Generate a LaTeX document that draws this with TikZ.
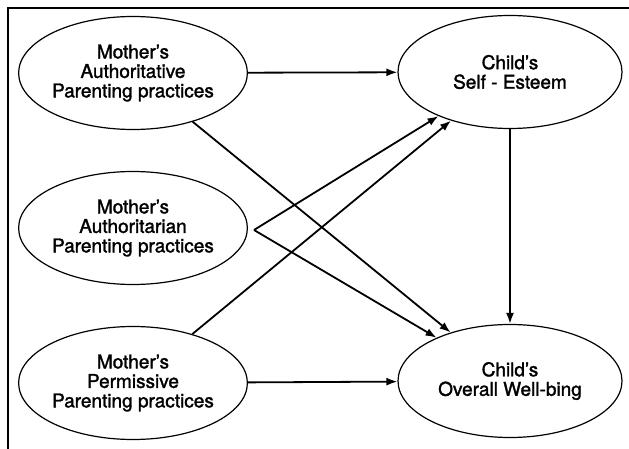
\documentclass[tikz,border=0pt]{standalone}
\usepackage{fontspec}
\setmainfont{TeX Gyre Heros}
\newfontfamily\medfont[BoldFont={TeX Gyre Heros},BoldFeatures={FakeBold=1.6}]{TeX Gyre Heros}
\usetikzlibrary{shapes.geometric,arrows.meta}
\begin{document}
\begin{tikzpicture}[x=1pt,y=-1pt,
  oval/.style={ellipse,draw,line width=1.2pt,minimum width=224pt,minimum height=113pt,inner sep=0pt,
    align=center,font=\medfont\bfseries\fontsize{19}{19.5}\selectfont},
  arr/.style={line width=1.8pt,-{Latex[length=11pt,width=8pt]}},
  frame/.style={line width=2pt}]
\useasboundingbox (0,0) rectangle (629,449);
\draw[frame] (8,449) -- (8,8) -- (629,8);
\node[oval] (auth) at (133,73) {Mother’s\\Authoritative\\Parenting practices};
\node[oval] (authn) at (133,228) {Mother’s\\Authoritarian\\Parenting practices};
\node[oval] (perm) at (133,383) {Mother’s\\Permissive\\Parenting practices};
\node[oval] (se) at (510,72) {Child’s\\Self - Esteem};
\node[oval] (wb) at (510,381) {Child’s\\Overall Well-bing};
\coordinate (apex) at (254,230);
\draw[arr] (auth) -- (se);
\draw[arr] (auth) -- (wb);
\draw[arr] (apex) -- (se);
\draw[arr] (apex) -- (wb);
\draw[arr] (perm) -- (se);
\draw[arr] (perm) -- (wb);
\draw[arr] (se) -- (wb);
\end{tikzpicture}
\end{document}
